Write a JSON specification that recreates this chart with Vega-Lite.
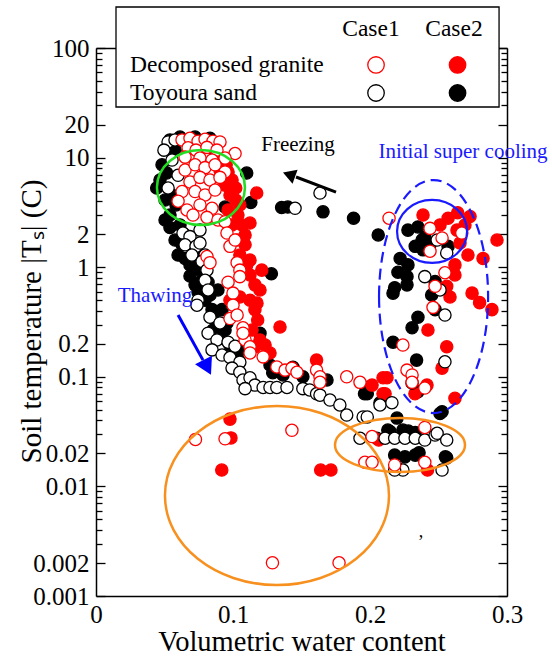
{
  "$schema": "https://vega.github.io/schema/vega-lite/v6.json",
  "width": 411,
  "height": 548,
  "autosize": {"type": "none"},
  "padding": {"left": 96, "top": 48, "right": 45, "bottom": 60},
  "config": {"font": "Liberation Serif", "view": {"stroke": null}},
  "resolve": {"axis": {"x": "independent", "y": "independent"}},
  "layer": [
    {
      "data": {"values": [
        {"x":0.054,"y":14.5,"s":"TS2"},{"x":0.0613,"y":15.4,"s":"TS2"},{"x":0.0723,"y":15.4,"s":"TS2"},{"x":0.0832,"y":15.0,"s":"TS2"},{"x":0.0869,"y":11.7,"s":"TS2"},{"x":0.0577,"y":11.7,"s":"TS2"},
        {"x":0.0443,"y":5.28,"s":"TS2"},{"x":0.0516,"y":7.23,"s":"TS2"},{"x":0.0482,"y":8.6,"s":"TS2"},{"x":0.0467,"y":6.25,"s":"TS2"},{"x":0.0555,"y":4.56,"s":"TS2"},{"x":0.0504,"y":4.1,"s":"TS2"},{"x":0.0584,"y":3.7,"s":"TS2"},{"x":0.054,"y":2.99,"s":"TS2"},{"x":0.0504,"y":2.7,"s":"TS2"},
        {"x":0.0942,"y":3.54,"s":"TS2"},{"x":0.11,"y":7.23,"s":"TS2"},{"x":0.113,"y":3.9,"s":"TS2"},{"x":0.1355,"y":3.5,"s":"TS2"},
        {"x":0.054,"y":2.3,"s":"TS2"},{"x":0.0613,"y":2.43,"s":"TS2"},{"x":0.065,"y":1.97,"s":"TS2"},{"x":0.0577,"y":1.77,"s":"TS2"},{"x":0.0628,"y":1.6,"s":"TS2"},{"x":0.0599,"y":1.29,"s":"TS2"},{"x":0.065,"y":1.2,"s":"TS2"},{"x":0.0723,"y":1.29,"s":"TS2"},{"x":0.0686,"y":1.05,"s":"TS2"},{"x":0.0759,"y":0.94,"s":"TS2"},{"x":0.0686,"y":0.83,"s":"TS2"},{"x":0.0723,"y":0.69,"s":"TS2"},{"x":0.0759,"y":0.73,"s":"TS2"},{"x":0.0745,"y":0.59,"s":"TS2"},{"x":0.0818,"y":0.73,"s":"TS2"},{"x":0.089,"y":0.62,"s":"TS2"},{"x":0.0832,"y":0.557,"s":"TS2"},{"x":0.0796,"y":0.5,"s":"TS2"},{"x":0.0847,"y":0.41,"s":"TS2"},{"x":0.092,"y":0.41,"s":"TS2"},{"x":0.0869,"y":0.33,"s":"TS2"},{"x":0.0956,"y":0.31,"s":"TS2"},{"x":0.0854,"y":0.267,"s":"TS2"},{"x":0.0942,"y":0.267,"s":"TS2"},{"x":0.0905,"y":0.225,"s":"TS2"},{"x":0.0978,"y":0.195,"s":"TS2"},{"x":0.103,"y":0.152,"s":"TS2"},{"x":0.105,"y":0.176,"s":"TS2"},
        {"x":0.128,"y":0.87,"s":"TS2"},{"x":0.14,"y":3.54,"s":"TS2"},{"x":0.1657,"y":3.2,"s":"TS2"},{"x":0.188,"y":2.8,"s":"TS2"},{"x":0.206,"y":1.97,"s":"TS2"},
        {"x":0.1197,"y":0.25,"s":"TS2"},{"x":0.125,"y":0.158,"s":"TS2"},{"x":0.127,"y":0.128,"s":"TS2"},{"x":0.129,"y":0.109,"s":"TS2"},{"x":0.1365,"y":0.104,"s":"TS2"},{"x":0.1438,"y":0.122,"s":"TS2"},{"x":0.151,"y":0.1,"s":"TS2"},{"x":0.1686,"y":0.0935,"s":"TS2"},{"x":0.198,"y":0.08,"s":"TS2"},{"x":0.2073,"y":0.058,"s":"TS2"},{"x":0.198,"y":0.07,"s":"TS2"},
        {"x":0.2168,"y":0.58,"s":"TS2"},{"x":0.2168,"y":0.207,"s":"TS2"},
        {"x":0.2197,"y":0.042,"s":"TS2"},{"x":0.213,"y":0.0327,"s":"TS2"},{"x":0.224,"y":0.0327,"s":"TS2"},{"x":0.233,"y":0.031,"s":"TS2"},{"x":0.2146,"y":0.0316,"s":"TS2"},{"x":0.228,"y":0.032,"s":"TS2"},{"x":0.2526,"y":0.048,"s":"TS2"},{"x":0.2511,"y":0.0463,"s":"TS2"},{"x":0.218,"y":0.0193,"s":"TS2"},{"x":0.2255,"y":0.0186,"s":"TS2"},{"x":0.233,"y":0.0193,"s":"TS2"},{"x":0.2358,"y":0.0203,"s":"TS2"},{"x":0.256,"y":0.0182,"s":"TS2"},{"x":0.255,"y":0.0186,"s":"TS2"},{"x":0.205,"y":0.0275,"s":"TS2"},
        {"x":0.2277,"y":2.18,"s":"TS2"},{"x":0.235,"y":2.33,"s":"TS2"},{"x":0.238,"y":1.77,"s":"TS2"},{"x":0.233,"y":1.55,"s":"TS2"},{"x":0.257,"y":1.55,"s":"TS2"},{"x":0.222,"y":1.2,"s":"TS2"},{"x":0.2277,"y":1.05,"s":"TS2"},{"x":0.2204,"y":0.9,"s":"TS2"},{"x":0.227,"y":0.82,"s":"TS2"},{"x":0.218,"y":0.65,"s":"TS2"},{"x":0.227,"y":0.69,"s":"TS2"},{"x":0.245,"y":0.557,"s":"TS2"},{"x":0.2475,"y":0.74,"s":"TS2"},{"x":0.235,"y":0.35,"s":"TS2"},{"x":0.2307,"y":0.28,"s":"TS2"},{"x":0.234,"y":0.142,"s":"TS2"},{"x":0.235,"y":0.073,"s":"TS2"},{"x":0.196,"y":0.07,"s":"TS2"},{"x":0.2387,"y":1.44,"s":"TS2"},{"x":0.2475,"y":0.41,"s":"TS2"},{"x":0.24,"y":1.87,"s":"TS2"},{"x":0.2438,"y":1.6,"s":"TS2"},

        {"x":0.092,"y":9.5,"s":"DG2"},{"x":0.095,"y":8.6,"s":"DG2"},{"x":0.0905,"y":7.7,"s":"DG2"},{"x":0.0964,"y":7.4,"s":"DG2"},{"x":0.0993,"y":6.25,"s":"DG2"},{"x":0.102,"y":5.28,"s":"DG2"},{"x":0.0942,"y":5.6,"s":"DG2"},{"x":0.0978,"y":4.56,"s":"DG2"},{"x":0.102,"y":4.1,"s":"DG2"},{"x":0.105,"y":3.7,"s":"DG2"},{"x":0.0964,"y":3.33,"s":"DG2"},{"x":0.1036,"y":2.99,"s":"DG2"},{"x":0.0993,"y":2.43,"s":"DG2"},{"x":0.1066,"y":2.43,"s":"DG2"},{"x":0.1173,"y":4.75,"s":"DG2"},{"x":0.1124,"y":2.53,"s":"DG2"},
        {"x":0.1088,"y":1.97,"s":"DG2"},{"x":0.103,"y":1.77,"s":"DG2"},{"x":0.1088,"y":1.6,"s":"DG2"},{"x":0.105,"y":1.29,"s":"DG2"},{"x":0.1124,"y":1.16,"s":"DG2"},{"x":0.11,"y":1.05,"s":"DG2"},{"x":0.121,"y":0.94,"s":"DG2"},{"x":0.1124,"y":0.85,"s":"DG2"},{"x":0.116,"y":0.69,"s":"DG2"},{"x":0.1197,"y":0.62,"s":"DG2"},{"x":0.1124,"y":0.5,"s":"DG2"},{"x":0.1175,"y":0.47,"s":"DG2"},{"x":0.105,"y":0.535,"s":"DG2"},{"x":0.0978,"y":0.5,"s":"DG2"},{"x":0.116,"y":0.41,"s":"DG2"},{"x":0.118,"y":0.33,"s":"DG2"},{"x":0.1139,"y":0.267,"s":"DG2"},{"x":0.1197,"y":0.217,"s":"DG2"},{"x":0.116,"y":0.188,"s":"DG2"},{"x":0.1234,"y":0.195,"s":"DG2"},{"x":0.127,"y":0.165,"s":"DG2"},{"x":0.1343,"y":0.285,"s":"DG2"},{"x":0.161,"y":0.142,"s":"DG2"},{"x":0.2095,"y":0.098,"s":"DG2"},{"x":0.2095,"y":0.07,"s":"DG2"},
        {"x":0.2387,"y":2.99,"s":"DG2"},{"x":0.257,"y":2.8,"s":"DG2"},{"x":0.264,"y":3.14,"s":"DG2"},{"x":0.273,"y":2.9,"s":"DG2"},{"x":0.2635,"y":2.18,"s":"DG2"},{"x":0.2657,"y":1.66,"s":"DG2"},{"x":0.2715,"y":1.29,"s":"DG2"},{"x":0.2825,"y":1.2,"s":"DG2"},{"x":0.2927,"y":1.77,"s":"DG2"},{"x":0.262,"y":1.05,"s":"DG2"},{"x":0.262,"y":0.85,"s":"DG2"},{"x":0.256,"y":0.67,"s":"DG2"},{"x":0.2584,"y":0.535,"s":"DG2"},{"x":0.2745,"y":0.58,"s":"DG2"},{"x":0.28,"y":0.475,"s":"DG2"},{"x":0.289,"y":0.41,"s":"DG2"},{"x":0.2423,"y":0.267,"s":"DG2"},{"x":0.256,"y":0.188,"s":"DG2"},{"x":0.2526,"y":0.12,"s":"DG2"},{"x":0.2328,"y":0.07,"s":"DG2"},{"x":0.2124,"y":0.098,"s":"DG2"},{"x":0.211,"y":0.07,"s":"DG2"},{"x":0.262,"y":0.0636,"s":"DG2"},{"x":0.2015,"y":0.084,"s":"DG2"},{"x":0.2416,"y":0.084,"s":"DG2"},{"x":0.2511,"y":2.43,"s":"DG2"},{"x":0.2693,"y":2.43,"s":"DG2"},
        {"x":0.2064,"y":0.0265,"s":"DG2"},{"x":0.242,"y":0.0141,"s":"DG2"},{"x":0.0978,"y":0.0411,"s":"DG2"},{"x":0.0985,"y":0.0277,"s":"DG2"},{"x":0.0918,"y":0.0141,"s":"DG2"},{"x":0.164,"y":0.0141,"s":"DG2"},{"x":0.1715,"y":0.0141,"s":"DG2"},

        {"x":0.0526,"y":13.9,"s":"TS1"},{"x":0.0577,"y":14.5,"s":"TS1"},{"x":0.0496,"y":11.7,"s":"TS1"},{"x":0.0555,"y":9.5,"s":"TS1"},{"x":0.0599,"y":6.9,"s":"TS1"},{"x":0.0526,"y":5.28,"s":"TS1"},
        {"x":0.0635,"y":2.05,"s":"TS1"},{"x":0.0759,"y":2.18,"s":"TS1"},{"x":0.0686,"y":1.9,"s":"TS1"},{"x":0.065,"y":1.6,"s":"TS1"},{"x":0.073,"y":1.55,"s":"TS1"},{"x":0.0759,"y":1.66,"s":"TS1"},{"x":0.0796,"y":1.29,"s":"TS1"},{"x":0.07,"y":1.29,"s":"TS1"},{"x":0.0774,"y":1.13,"s":"TS1"},{"x":0.081,"y":0.94,"s":"TS1"},{"x":0.0796,"y":0.76,"s":"TS1"},{"x":0.0818,"y":0.62,"s":"TS1"},{"x":0.0745,"y":0.5,"s":"TS1"},{"x":0.0737,"y":0.45,"s":"TS1"},{"x":0.0832,"y":0.35,"s":"TS1"},{"x":0.0905,"y":0.31,"s":"TS1"},{"x":0.0818,"y":0.25,"s":"TS1"},{"x":0.0883,"y":0.217,"s":"TS1"},{"x":0.0964,"y":0.207,"s":"TS1"},{"x":0.1015,"y":0.19,"s":"TS1"},{"x":0.0847,"y":0.176,"s":"TS1"},{"x":0.092,"y":0.158,"s":"TS1"},{"x":0.0978,"y":0.15,"s":"TS1"},{"x":0.105,"y":0.136,"s":"TS1"},{"x":0.0993,"y":0.12,"s":"TS1"},{"x":0.105,"y":0.11,"s":"TS1"},{"x":0.1073,"y":0.0935,"s":"TS1"},{"x":0.1124,"y":0.098,"s":"TS1"},{"x":0.116,"y":0.084,"s":"TS1"},{"x":0.1088,"y":0.078,"s":"TS1"},{"x":0.122,"y":0.08,"s":"TS1"},{"x":0.127,"y":0.08,"s":"TS1"},{"x":0.132,"y":0.08,"s":"TS1"},{"x":0.1394,"y":0.08,"s":"TS1"},{"x":0.151,"y":0.078,"s":"TS1"},{"x":0.156,"y":0.0758,"s":"TS1"},{"x":0.161,"y":0.07,"s":"TS1"},{"x":0.1635,"y":0.068,"s":"TS1"},{"x":0.1708,"y":0.0614,"s":"TS1"},{"x":0.178,"y":0.0553,"s":"TS1"},{"x":0.183,"y":0.0448,"s":"TS1"},{"x":0.195,"y":0.043,"s":"TS1"},{"x":0.198,"y":0.043,"s":"TS1"},{"x":0.2073,"y":0.0553,"s":"TS1"},{"x":0.216,"y":0.058,"s":"TS1"},{"x":0.2307,"y":0.088,"s":"TS1"},
        {"x":0.1927,"y":0.0275,"s":"TS1"},{"x":0.211,"y":0.0275,"s":"TS1"},{"x":0.218,"y":0.0275,"s":"TS1"},{"x":0.2255,"y":0.0275,"s":"TS1"},{"x":0.233,"y":0.0275,"s":"TS1"},{"x":0.24,"y":0.0265,"s":"TS1"},{"x":0.2475,"y":0.0294,"s":"TS1"},{"x":0.249,"y":0.0305,"s":"TS1"},{"x":0.256,"y":0.0265,"s":"TS1"},{"x":0.2197,"y":0.0147,"s":"TS1"},{"x":0.224,"y":0.0141,"s":"TS1"},{"x":0.218,"y":0.0141,"s":"TS1"},{"x":0.2526,"y":0.0141,"s":"TS1"},
        {"x":0.249,"y":1.77,"s":"TS1"},{"x":0.256,"y":1.35,"s":"TS1"},{"x":0.24,"y":0.82,"s":"TS1"},{"x":0.2511,"y":0.62,"s":"TS1"},{"x":0.2547,"y":0.366,"s":"TS1"},{"x":0.2547,"y":0.137,"s":"TS1"},
        {"x":0.1635,"y":4.75,"s":"TS1"},{"x":0.1453,"y":3.45,"s":"TS1"},

        {"x":0.0628,"y":14.5,"s":"DG1"},{"x":0.0686,"y":15.0,"s":"DG1"},{"x":0.0745,"y":14.1,"s":"DG1"},{"x":0.0796,"y":14.7,"s":"DG1"},{"x":0.0854,"y":14.1,"s":"DG1"},{"x":0.0905,"y":13.9,"s":"DG1"},{"x":0.0672,"y":12.3,"s":"DG1"},{"x":0.073,"y":11.7,"s":"DG1"},{"x":0.081,"y":12.4,"s":"DG1"},{"x":0.0883,"y":11.7,"s":"DG1"},{"x":0.1015,"y":10.9,"s":"DG1"},{"x":0.065,"y":10.1,"s":"DG1"},{"x":0.0759,"y":9.9,"s":"DG1"},{"x":0.0847,"y":9.5,"s":"DG1"},{"x":0.0942,"y":9.9,"s":"DG1"},
        {"x":0.065,"y":7.7,"s":"DG1"},{"x":0.0723,"y":8.6,"s":"DG1"},{"x":0.0796,"y":8.1,"s":"DG1"},{"x":0.0869,"y":8.6,"s":"DG1"},{"x":0.0942,"y":7.4,"s":"DG1"},{"x":0.0686,"y":6.0,"s":"DG1"},{"x":0.0759,"y":6.6,"s":"DG1"},{"x":0.0832,"y":6.25,"s":"DG1"},{"x":0.0905,"y":6.6,"s":"DG1"},{"x":0.0628,"y":4.9,"s":"DG1"},{"x":0.0723,"y":4.9,"s":"DG1"},{"x":0.0796,"y":4.56,"s":"DG1"},{"x":0.0869,"y":5.06,"s":"DG1"},{"x":0.0599,"y":4.0,"s":"DG1"},{"x":0.0664,"y":3.33,"s":"DG1"},{"x":0.0759,"y":3.7,"s":"DG1"},{"x":0.0847,"y":3.45,"s":"DG1"},{"x":0.081,"y":2.85,"s":"DG1"},{"x":0.0708,"y":2.99,"s":"DG1"},{"x":0.089,"y":2.7,"s":"DG1"},{"x":0.0942,"y":2.6,"s":"DG1"},
        {"x":0.0956,"y":2.05,"s":"DG1"},{"x":0.0978,"y":1.55,"s":"DG1"},{"x":0.1015,"y":1.77,"s":"DG1"},{"x":0.081,"y":1.25,"s":"DG1"},{"x":0.0832,"y":1.1,"s":"DG1"},{"x":0.103,"y":1.1,"s":"DG1"},{"x":0.105,"y":0.94,"s":"DG1"},{"x":0.105,"y":0.82,"s":"DG1"},{"x":0.0964,"y":0.73,"s":"DG1"},{"x":0.1,"y":0.58,"s":"DG1"},{"x":0.1,"y":0.45,"s":"DG1"},{"x":0.0978,"y":0.34,"s":"DG1"},{"x":0.103,"y":0.366,"s":"DG1"},{"x":0.1073,"y":0.28,"s":"DG1"},{"x":0.1088,"y":0.217,"s":"DG1"},{"x":0.1124,"y":0.188,"s":"DG1"},{"x":0.1073,"y":0.25,"s":"DG1"},{"x":0.1124,"y":0.165,"s":"DG1"},{"x":0.122,"y":0.152,"s":"DG1"},{"x":0.132,"y":0.123,"s":"DG1"},{"x":0.138,"y":0.115,"s":"DG1"},{"x":0.143,"y":0.12,"s":"DG1"},{"x":0.1467,"y":0.11,"s":"DG1"},{"x":0.161,"y":0.115,"s":"DG1"},{"x":0.1635,"y":0.1,"s":"DG1"},{"x":0.183,"y":0.1,"s":"DG1"},{"x":0.1927,"y":0.089,"s":"DG1"},{"x":0.1635,"y":0.089,"s":"DG1"},
        {"x":0.2139,"y":2.8,"s":"DG1"},{"x":0.2438,"y":2.26,"s":"DG1"},{"x":0.2526,"y":1.85,"s":"DG1"},{"x":0.267,"y":2.05,"s":"DG1"},{"x":0.2438,"y":1.4,"s":"DG1"},{"x":0.2547,"y":0.89,"s":"DG1"},{"x":0.2475,"y":0.67,"s":"DG1"},{"x":0.246,"y":0.43,"s":"DG1"},{"x":0.224,"y":0.195,"s":"DG1"},{"x":0.227,"y":0.115,"s":"DG1"},{"x":0.2307,"y":0.104,"s":"DG1"},{"x":0.2307,"y":0.089,"s":"DG1"},{"x":0.24,"y":0.079,"s":"DG1"},
        {"x":0.24,"y":0.0345,"s":"DG1"},{"x":0.2015,"y":0.0285,"s":"DG1"},{"x":0.1963,"y":0.0166,"s":"DG1"},{"x":0.2015,"y":0.0166,"s":"DG1"},{"x":0.218,"y":0.0157,"s":"DG1"},{"x":0.24,"y":0.0166,"s":"DG1"},
        {"x":0.0726,"y":0.0268,"s":"DG1"},{"x":0.0942,"y":0.0272,"s":"DG1"},{"x":0.143,"y":0.0325,"s":"DG1"},{"x":0.1288,"y":0.00201,"s":"DG1"},{"x":0.1774,"y":0.00201,"s":"DG1"}
      ]},
      "mark": {"type": "point", "shape": "circle", "filled": true, "size": 150, "strokeWidth": 1.3, "opacity": 1},
      "encoding": {
        "x": {"field": "x", "type": "quantitative",
          "scale": {"domain": [0, 0.3], "nice": false, "zero": false},
          "axis": {"orient": "bottom", "values": [0, 0.1, 0.2, 0.3], "format": "~g", "ticks": false, "grid": false,
            "domain": true, "domainColor": "black", "domainWidth": 1.5,
            "labelFont": "Liberation Serif", "labelFontSize": 25, "labelColor": "black", "labelPadding": 6, "labelFlush": false, "labelOverlap": false,
            "title": "Volumetric water content", "titleFont": "Liberation Serif", "titleFontSize": 28.5, "titleFontWeight": "normal", "titleColor": "black",
            "titleBaseline": "alphabetic", "titleY": 54}},
        "y": {"field": "y", "type": "quantitative",
          "scale": {"type": "log", "domain": [0.001, 100], "nice": false},
          "axis": {"orient": "left", "values": [0.001, 0.002, 0.01, 0.02, 0.1, 0.2, 1, 2, 10, 20, 100], "format": "~g", "ticks": false, "grid": false,
            "domain": true, "domainColor": "black", "domainWidth": 1.5,
            "labelFont": "Liberation Serif", "labelFontSize": 25, "labelColor": "black", "labelPadding": 7, "labelFlush": false, "labelOverlap": false,
            "title": "Soil temperature |Tₛ| (C)", "titleFont": "Liberation Serif", "titleFontSize": 29, "titleFontWeight": "normal", "titleColor": "black",
            "titleAngle": -90, "titleBaseline": "alphabetic", "titleAlign": "center", "titleX": -56, "titleY": 273}},
        "fill": {"field": "s", "type": "nominal",
          "scale": {"domain": ["DG1", "DG2", "TS1", "TS2"], "range": ["white", "#ff0000", "white", "black"]},
          "legend": null},
        "stroke": {"field": "s", "type": "nominal",
          "scale": {"domain": ["DG1", "DG2", "TS1", "TS2"], "range": ["#ff0000", "#ff0000", "black", "black"]},
          "legend": null}
      }
    },
    {
      "data": {"values": [{}]},
      "mark": {"type": "point", "shape": "M-1,0A1,0.852 0 1,0 1,0A1,0.852 0 1,0 -1,0Z", "size": 7744, "filled": false, "stroke": "#22dd22", "strokeWidth": 2.5, "opacity": 1},
      "encoding": {
        "x": {"datum": 0.0766, "axis": {"orient": "top", "domain": true, "domainColor": "black", "domainWidth": 1.5, "ticks": false, "labels": false, "grid": false, "title": null}},
        "y": {"datum": 5.33, "axis": {"orient": "left", "values": [0.003,0.004,0.005,0.006,0.007,0.008,0.009,0.03,0.04,0.05,0.06,0.07,0.08,0.09,0.3,0.4,0.5,0.6,0.7,0.8,0.9,3,4,5,6,7,8,9,30,40,50,60,70,80,90], "domain": false, "labels": false, "grid": false, "ticks": true, "tickSize": -6, "tickWidth": 1.3, "tickColor": "black", "title": null}}
      }
    },
    {
      "data": {"values": [{}]},
      "mark": {"type": "point", "shape": "M-1,0A1,0.9 0 1,0 1,0A1,0.9 0 1,0 -1,0Z", "size": 4900, "filled": false, "stroke": "#1a1aff", "strokeWidth": 2.2, "opacity": 1},
      "encoding": {
        "x": {"datum": 0.2453, "axis": null},
        "y": {"datum": 2.12, "axis": {"orient": "left", "values": [0.001, 0.002, 0.01, 0.02, 0.1, 0.2, 1, 2, 10, 20, 100], "domain": false, "labels": false, "grid": false, "ticks": true, "tickSize": -9, "tickWidth": 1.3, "tickColor": "black", "title": null}}
      }
    },
    {
      "data": {"values": [{}]},
      "mark": {"type": "point", "shape": "M-0.468,0A0.468,1 0 1,0 0.468,0A0.468,1 0 1,0 -0.468,0Z", "size": 54289, "filled": false, "stroke": "#1a1aff", "strokeWidth": 2.2, "strokeDash": [11, 6], "opacity": 1},
      "encoding": {
        "x": {"datum": 0.2464, "axis": null},
        "y": {"datum": 0.54, "axis": {"orient": "right", "values": [0.003,0.004,0.005,0.006,0.007,0.008,0.009,0.03,0.04,0.05,0.06,0.07,0.08,0.09,0.3,0.4,0.5,0.6,0.7,0.8,0.9,3,4,5,6,7,8,9,30,40,50,60,70,80,90], "domain": true, "domainColor": "black", "domainWidth": 1.5, "labels": false, "grid": false, "ticks": true, "tickSize": -6, "tickWidth": 1.3, "tickColor": "black", "title": null}}
      }
    },
    {
      "data": {"values": [{}]},
      "mark": {"type": "point", "shape": "M-1,0A1,0.799 0 1,0 1,0A1,0.799 0 1,0 -1,0Z", "size": 50176, "filled": false, "stroke": "#f7901e", "strokeWidth": 2.5, "opacity": 1},
      "encoding": {
        "x": {"datum": 0.1321, "axis": null},
        "y": {"datum": 0.00826, "axis": {"orient": "right", "values": [0.001, 0.002, 0.01, 0.02, 0.1, 0.2, 1, 2, 10, 20, 100], "domain": false, "labels": false, "grid": false, "ticks": true, "tickSize": -9, "tickWidth": 1.3, "tickColor": "black", "title": null}}
      }
    },
    {
      "data": {"values": [{}]},
      "mark": {"type": "point", "shape": "M-1,0A1,0.415 0 1,0 1,0A1,0.415 0 1,0 -1,0Z", "size": 16900, "filled": false, "stroke": "#f7901e", "strokeWidth": 2.5, "opacity": 1},
      "encoding": {"x": {"datum": 0.2219, "axis": null}, "y": {"datum": 0.02388, "axis": null}}
    },
    {
      "data": {"values": [{}]},
      "mark": {"type": "rule", "stroke": "black", "strokeWidth": 3},
      "encoding": {
        "x": {"datum": 0.1752, "axis": null}, "y": {"datum": 4.85, "axis": null},
        "x2": {"datum": 0.146}, "y2": {"datum": 6.65}
      }
    },
    {
      "data": {"values": [{}]},
      "mark": {"type": "point", "shape": "triangle-up", "size": 220, "filled": true, "color": "black", "angle": 290, "opacity": 1},
      "encoding": {"x": {"datum": 0.1409, "axis": null}, "y": {"datum": 7.0, "axis": null}}
    },
    {
      "data": {"values": [{}]},
      "mark": {"type": "rule", "stroke": "#0000ff", "strokeWidth": 3},
      "encoding": {
        "x": {"datum": 0.0599, "axis": null}, "y": {"datum": 0.366, "axis": null},
        "x2": {"datum": 0.0781}, "y2": {"datum": 0.142}
      }
    },
    {
      "data": {"values": [{}]},
      "mark": {"type": "point", "shape": "triangle-up", "size": 360, "filled": true, "color": "#0000ff", "angle": 153, "opacity": 1},
      "encoding": {"x": {"datum": 0.0812, "axis": null}, "y": {"datum": 0.122, "axis": null}}
    },
    {
      "data": {"values": [{}]},
      "mark": {"type": "text", "text": "Freezing", "font": "Liberation Serif", "fontSize": 21, "align": "center", "baseline": "middle", "color": "black"},
      "encoding": {"x": {"datum": 0.1474, "axis": null}, "y": {"datum": 13.0, "axis": null}}
    },
    {
      "data": {"values": [{}]},
      "mark": {"type": "text", "text": "Initial super cooling", "font": "Liberation Serif", "fontSize": 21, "align": "center", "baseline": "middle", "color": "#1a1aff"},
      "encoding": {"x": {"datum": 0.2679, "axis": null}, "y": {"datum": 11.25, "axis": null}}
    },
    {
      "data": {"values": [{}]},
      "mark": {"type": "text", "text": "Thawing", "font": "Liberation Serif", "fontSize": 21, "align": "center", "baseline": "middle", "color": "#1a1aff"},
      "encoding": {"x": {"datum": 0.0431, "axis": null}, "y": {"datum": 0.545, "axis": null}}
    },
    {
      "data": {"values": [{}]},
      "mark": {"type": "text", "text": ",", "font": "Liberation Serif", "fontSize": 18, "align": "center", "baseline": "middle", "color": "black"},
      "encoding": {"x": {"datum": 0.2372, "axis": null}, "y": {"datum": 0.00384, "axis": null}}
    },
    {
      "data": {"values": [{}]},
      "mark": {"type": "rect", "fill": "white", "stroke": "black", "strokeWidth": 1.3},
      "encoding": {
        "x": {"datum": 0.0146, "axis": null}, "x2": {"datum": 0.2942},
        "y": {"datum": 236.6, "axis": null}, "y2": {"datum": 28.95}
      }
    },
    {
      "data": {"values": [{}]},
      "mark": {"type": "text", "text": "Case1", "font": "Liberation Serif", "fontSize": 23.5, "align": "center", "baseline": "alphabetic", "color": "black"},
      "encoding": {"x": {"datum": 0.2007, "axis": null}, "y": {"datum": 128.5, "axis": null}}
    },
    {
      "data": {"values": [{}]},
      "mark": {"type": "text", "text": "Case2", "font": "Liberation Serif", "fontSize": 23.5, "align": "center", "baseline": "alphabetic", "color": "black"},
      "encoding": {"x": {"datum": 0.2613, "axis": null}, "y": {"datum": 128.5, "axis": null}}
    },
    {
      "data": {"values": [{}]},
      "mark": {"type": "text", "text": "Decomposed granite", "font": "Liberation Serif", "fontSize": 23.5, "align": "left", "baseline": "alphabetic", "color": "black"},
      "encoding": {"x": {"datum": 0.0248, "axis": null}, "y": {"datum": 59.8, "axis": null}}
    },
    {
      "data": {"values": [{}]},
      "mark": {"type": "text", "text": "Toyoura sand", "font": "Liberation Serif", "fontSize": 23.5, "align": "left", "baseline": "alphabetic", "color": "black"},
      "encoding": {"x": {"datum": 0.0248, "axis": null}, "y": {"datum": 33.2, "axis": null}}
    },
    {
      "data": {"values": [{}]},
      "mark": {"type": "point", "shape": "circle", "size": 272, "filled": true, "fill": "white", "stroke": "#ff0000", "strokeWidth": 1.3, "opacity": 1},
      "encoding": {"x": {"datum": 0.2044, "axis": null}, "y": {"datum": 70.0, "axis": null}}
    },
    {
      "data": {"values": [{}]},
      "mark": {"type": "point", "shape": "circle", "size": 272, "filled": true, "fill": "#ff0000", "stroke": "#ff0000", "strokeWidth": 1.3, "opacity": 1},
      "encoding": {"x": {"datum": 0.2639, "axis": null}, "y": {"datum": 70.0, "axis": null}}
    },
    {
      "data": {"values": [{}]},
      "mark": {"type": "point", "shape": "circle", "size": 272, "filled": true, "fill": "white", "stroke": "black", "strokeWidth": 1.3, "opacity": 1},
      "encoding": {"x": {"datum": 0.2044, "axis": null}, "y": {"datum": 38.86, "axis": null}}
    },
    {
      "data": {"values": [{}]},
      "mark": {"type": "point", "shape": "circle", "size": 272, "filled": true, "fill": "black", "stroke": "black", "strokeWidth": 1.3, "opacity": 1},
      "encoding": {"x": {"datum": 0.2639, "axis": null}, "y": {"datum": 38.86, "axis": null}}
    }
  ]
}
